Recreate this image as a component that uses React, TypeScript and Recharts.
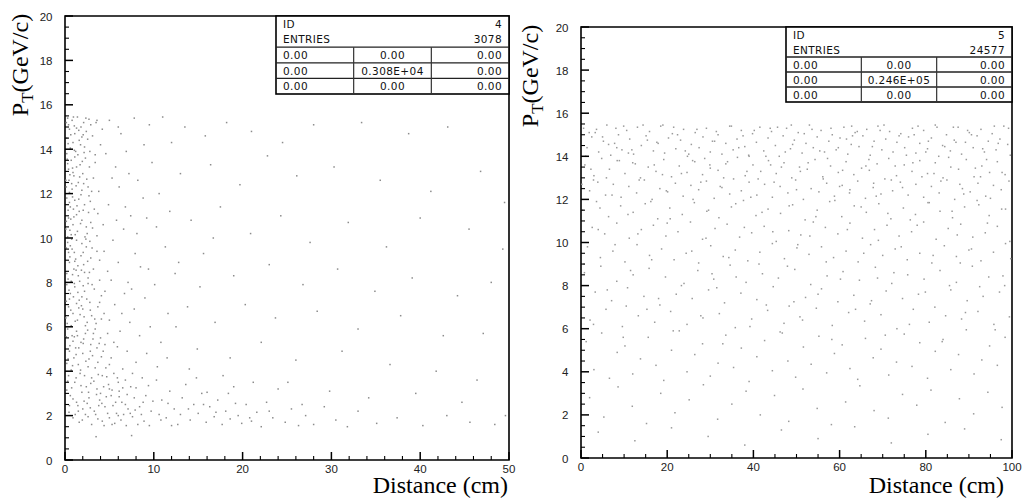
import React from 'react'
import { ScatterChart, Scatter, XAxis, YAxis, ReferenceArea } from 'recharts'

// distance (cm), pT (GeV/c) (ID 4)
const leftCore: [number, number][] = [
  [0.3,15.4],[0.8,15.3],[1.4,15.45],[2.1,15.2],[2.7,15.35],[0.5,14.9],[1.1,14.7],[1.8,15.0],[2.4,14.8],[0.2,14.5],
  [0.9,14.3],[1.6,14.4],[2.2,14.1],[3.1,14.6],[0.6,14.05],[1.3,14.95],[2.9,15.1],[3.6,15.3],[0.4,15.1],[1.9,14.55],
  [0.2,13.8],[0.7,13.5],[1.2,13.9],[1.7,13.3],[2.3,13.6],[0.4,13.1],[1.0,12.8],[1.5,12.5],[2.0,12.9],[2.6,12.3],
  [0.1,12.6],[0.8,12.2],[1.3,13.2],[2.8,13.9],[0.5,12.05],[1.9,12.15],[3.2,12.7],[0.3,13.35],[1.1,13.65],[2.1,12.45],
  [3.4,13.4],[0.9,12.95],[0.2,11.8],[0.6,11.4],[1.1,11.7],[1.6,11.2],[2.2,11.5],[2.7,11.9],[0.4,10.9],[0.9,10.6],
  [1.4,10.3],[1.9,10.8],[2.5,10.2],[0.1,10.4],[0.7,10.15],[1.3,11.05],[2.9,10.7],[3.3,11.3],[0.5,11.6],[1.8,11.95],
  [2.4,10.5],[1.0,10.95],[3.6,10.1],[0.3,10.05],[0.3,9.8],[0.8,9.5],[1.3,9.9],[1.8,9.2],[2.4,9.6],[2.9,9.1],
  [0.5,8.9],[1.0,8.6],[1.5,8.3],[2.1,8.8],[2.6,8.2],[0.2,8.4],[0.7,8.05],[1.2,9.05],[3.2,8.6],[3.6,9.4],
  [0.4,9.35],[1.9,9.75],[2.2,8.45],[1.1,8.95],[3.9,8.1],[0.6,9.65],[2.8,9.85],[0.2,7.9],[0.6,7.5],[1.1,7.8],
  [1.6,7.2],[2.2,7.6],[2.8,7.1],[3.3,7.7],[0.4,6.9],[0.9,6.6],[1.4,6.3],[2.0,6.8],[2.5,6.2],[3.0,6.5],
  [3.7,6.9],[0.1,6.4],[0.7,6.05],[1.3,7.05],[1.9,7.35],[2.6,7.95],[3.5,6.15],[4.1,7.4],[0.5,7.25],[1.7,6.55],
  [2.3,6.05],[4.4,6.6],[0.3,5.9],[0.8,5.6],[1.3,5.8],[1.8,5.3],[2.3,5.7],[2.9,5.2],[3.4,5.9],[4.0,5.5],
  [0.5,4.9],[1.0,4.6],[1.5,4.3],[2.0,4.8],[2.6,4.2],[3.1,4.7],[3.7,4.4],[4.3,4.9],[0.2,4.35],[0.7,4.05],
  [1.2,5.05],[2.1,5.45],[3.6,5.05],[4.8,5.7],[5.2,4.6],[0.9,5.35],[2.7,4.55],[4.6,4.15],[5.5,5.3],
]

const leftCore2: [number, number][] = [
  [0.15,15.2],[0.65,14.65],[1.05,15.05],[1.55,14.85],[2.35,15.4],[0.35,14.25],[1.75,14.2],[2.55,14.45],[0.95,15.45],[2.05,14.65],
  [0.25,13.55],[0.55,12.85],[0.85,13.15],[1.45,13.75],[1.95,13.45],[2.45,12.65],[0.15,12.3],[1.25,12.35],[1.65,12.75],[2.75,13.2],
  [0.45,12.6],[2.15,13.85],[3.0,12.1],[1.05,13.95],[0.75,12.45],
  [0.35,11.25],[0.85,11.85],[1.35,11.45],[1.75,10.65],[2.05,11.25],[0.15,10.75],[0.55,10.35],[1.15,10.15],[2.65,11.15],[1.55,11.75],
  [2.25,10.05],[3.1,10.45],[0.95,11.3],[2.85,11.65],[0.65,10.85],
  [0.15,9.55],[0.55,9.15],[1.05,9.35],[1.45,8.75],[2.05,9.35],[2.55,8.95],[0.35,8.15],[0.85,8.35],[1.65,8.05],[2.35,9.95],
  [3.05,9.55],[1.25,8.55],[2.75,8.45],[0.75,9.95],[1.85,8.55],
  [0.15,7.15],[0.45,7.65],[0.95,7.35],[1.45,7.55],[1.85,6.95],[2.45,7.25],[3.05,7.9],[0.65,6.75],[1.15,6.25],[1.55,6.85],
  [2.15,6.45],[2.85,6.75],[3.35,6.35],[0.25,6.15],[3.9,7.1],[1.05,7.95],[2.05,7.85],
  [0.15,5.55],[0.55,5.15],[1.05,5.55],[1.55,5.05],[2.05,5.25],[2.55,5.85],[3.15,5.45],[3.85,5.25],[0.35,4.55],[0.85,4.25],
  [1.25,4.75],[1.75,4.05],[2.35,4.45],[2.85,4.9],[3.4,4.15],[4.1,4.65],[4.5,5.2],[5.0,4.3],[1.4,5.6],[3.2,5.7],
  [0.3,3.55],[0.75,3.25],[1.25,3.7],[1.8,3.35],[2.2,3.8],[2.65,3.05],[3.25,3.55],[3.75,3.85],[4.35,3.3],[4.7,3.75],
  [5.3,3.15],[5.9,3.7],[6.5,3.25],[0.9,2.75],[1.45,2.45],[2.15,2.65],[2.85,2.35],[3.55,2.95],[4.15,2.55],[4.65,2.85],
  [5.4,2.45],[6.1,2.85],[6.8,2.5],[7.35,2.1],[0.45,2.15],[1.15,2.05],[1.95,1.8],[2.6,1.95],[3.45,2.05],[4.2,1.75],
  [5.3,1.6],[6.0,2.0],[7.9,2.25],[8.8,2.6],[9.9,2.65],[10.8,1.8],[11.6,2.55],[13.0,2.05],[13.9,2.3],[15.6,2.5],
  [17.0,2.15],[19.2,2.55],[20.8,1.9],[23.0,2.2],[26.7,2.5],
]

const leftLow: [number, number][] = [
  [0.4,3.8],[1.1,3.5],[1.7,3.9],[2.4,3.3],[3.0,3.7],[3.6,3.2],[4.2,3.8],[4.9,3.4],[5.5,3.9],[6.1,3.1],
  [6.8,3.6],[7.4,3.3],[0.6,2.9],[1.3,2.6],[2.0,2.3],[2.7,2.8],[3.3,2.2],[3.9,2.7],[4.5,2.4],[5.2,2.9],
  [5.8,2.1],[6.4,2.6],[7.1,2.3],[7.8,2.8],[8.4,2.4],[9.1,2.9],[9.7,2.2],[0.9,1.9],[1.6,1.7],[2.3,2.05],
  [3.0,1.6],[3.7,1.85],[4.4,1.55],[5.0,1.9],[5.6,1.65],[6.3,1.8],[6.9,1.55],[7.6,1.95],[8.2,1.6],[8.9,1.75],
  [9.5,1.55],[0.2,3.15],[1.9,3.05],[2.9,3.45],[4.0,3.0],[5.0,3.2],[6.0,3.5],[7.0,2.95],[8.0,3.25],[8.7,3.7],
  [9.4,3.35],[3.5,1.05],[7.5,1.1],[0.5,2.45],[1.5,2.2],[2.5,2.55],[3.8,2.45],[4.8,2.1],[5.7,2.6],[6.6,2.05],
  [8.6,2.05],[10.3,3.6],[10.9,2.7],[11.4,1.9],[11.8,3.1],[12.3,2.3],[12.7,1.6],[13.2,2.8],[13.6,3.4],[14.1,1.8],
  [14.5,2.5],[15.0,2.1],[15.4,3.0],[15.9,1.7],[16.3,2.4],[16.8,1.95],[17.2,2.7],[17.7,1.6],[18.1,2.2],[18.6,1.85],
  [19.0,3.3],[19.5,2.0],[19.9,1.65],[20.4,2.5],[21.0,1.75],[21.6,2.15],[22.1,1.5],[22.7,2.6],[23.4,1.9],[24.0,3.2],
  [24.8,1.7],[25.5,2.3],[26.3,1.55],[27.1,2.0],[28.0,1.6],[29.2,2.4],[30.5,1.8],[31.8,1.5],[33.0,2.2],[35.1,1.65],
  [37.4,1.9],[40.3,1.55],[43.0,2.0],[45.6,1.7],[48.4,1.6],[49.6,2.0],[10.6,2.05],[12.0,1.55],[14.8,3.7],[16.0,3.05],
  [18.4,3.0],[21.2,3.5],
]

const leftSparse: [number, number][] = [
  [3.5,15.2],[4.2,14.9],[5.0,15.3],[6.3,14.7],[7.8,15.4],[9.5,15.1],[11.0,15.45],[4.6,13.8],[5.7,13.2],[6.9,13.9],
  [8.2,12.6],[9.8,13.4],[3.8,12.1],[4.9,11.5],[6.1,12.3],[7.4,11.0],[8.8,11.8],[10.6,12.0],[4.3,10.6],[5.4,9.9],
  [6.6,10.4],[7.9,9.3],[9.2,10.9],[11.3,9.6],[3.9,9.0],[4.8,8.5],[6.0,8.9],[7.1,8.0],[8.5,8.7],[10.1,7.9],
  [4.5,7.6],[5.6,7.0],[6.7,7.5],[7.8,6.8],[9.0,7.3],[11.6,6.6],[5.0,6.3],[6.2,5.8],[7.3,6.2],[8.4,5.6],
  [9.6,6.0],[10.8,5.3],[5.9,5.1],[7.0,4.9],[8.0,4.4],[9.2,4.8],[10.4,4.2],[11.5,4.6],[6.5,4.1],[7.6,3.9],
  [4.0,14.2],[5.3,12.7],[6.8,11.4],[8.1,10.2],[9.4,8.6],[3.7,11.1],[4.4,9.4],[5.2,8.1],[6.4,6.6],[7.5,7.7],
  [12.0,14.3],[11.8,11.2],[3.4,13.75],[4.1,6.35],[5.8,10.8],[8.9,14.2],[10.3,10.5],[12.4,8.4],[6.0,15.0],[7.2,12.9],
  [13.5,15.0],[15.8,14.6],[18.2,15.2],[21.0,14.8],[24.5,14.3],[28.0,15.1],[33.4,15.2],[38.7,14.7],[43.1,15.0],[13.0,12.9],
  [16.4,13.3],[19.7,12.4],[22.8,13.7],[26.1,12.8],[30.3,13.2],[35.5,12.6],[41.2,12.1],[46.8,13.0],[49.5,11.6],[14.2,10.8],
  [17.5,11.4],[20.9,10.2],[24.3,11.0],[27.6,9.8],[31.9,10.7],[36.2,9.6],[40.0,10.9],[45.5,10.4],[49.3,9.5],[12.8,8.9],
  [15.6,9.3],[19.0,8.3],[23.0,8.8],[26.8,7.9],[30.7,8.6],[34.9,7.6],[39.1,8.2],[44.2,7.4],[48.0,8.0],[13.8,6.9],
  [16.9,6.2],[20.3,7.0],[23.7,6.4],[28.4,6.7],[33.0,5.9],[37.8,6.5],[42.6,5.6],[47.1,5.7],[14.9,5.0],[18.6,4.6],
  [22.1,5.3],[26.0,4.5],[31.2,4.9],[36.6,4.3],[41.8,4.0],[46.4,3.6],[17.8,3.8],[25.1,3.5],[29.8,3.1],[34.2,2.8],
  [39.5,3.0],[44.7,2.6],[12.5,6.0],[14.0,4.1],[15.2,7.8],[16.7,10.0],
]

// distance (cm), pT (GeV/c) (ID 5)
const rightTop: [number, number][] = [
  [0.6,15.3],[1.4,14.4],[2.5,14.9],[3.3,15.1],[4.1,14.2],[5.2,14.7],[6.0,15.45],[6.9,14.05],[7.8,14.6],[8.7,15.0],
  [9.5,14.3],[10.6,15.2],[11.3,14.8],[12.2,14.1],[13.1,15.35],[14.0,14.5],[15.1,14.95],[15.9,15.15],[16.8,14.25],[17.6,14.65],
  [18.5,15.4],[19.4,14.15],[20.3,14.85],[21.2,15.05],[22.0,14.35],[23.1,14.75],[23.8,15.25],[24.7,14.0],[25.6,14.55],[26.5,15.1],
  [27.4,14.4],[28.3,14.9],[29.1,15.3],[30.0,14.2],[31.0,14.7],[31.8,15.0],[32.7,14.1],[33.6,14.6],[34.5,15.4],[35.3,14.3],
  [36.2,14.8],[37.2,15.2],[38.0,14.45],[38.9,14.05],[39.8,15.05],[40.7,14.65],[41.5,15.35],[42.4,14.25],[43.4,14.85],[44.2,15.15],
  [45.1,14.5],[46.0,14.0],[46.9,14.95],[47.7,15.3],[48.6,14.35],[49.5,14.75],[50.4,15.1],[51.3,14.15],[52.2,14.6],[53.0,15.45],
  [53.9,14.4],[54.8,14.9],[55.7,15.2],[56.5,14.2],[57.5,14.7],[58.3,15.0],[59.2,14.3],[60.1,14.85],[61.0,15.35],[61.9,14.1],
  [62.7,14.55],[63.6,15.1],[64.5,14.45],[65.4,14.95],[66.3,15.25],[67.1,14.05],[68.0,14.7],[68.9,15.4],[69.8,14.3],[70.7,14.8],
  [71.6,15.15],[72.4,14.2],[73.3,14.65],[74.2,15.05],[75.1,14.4],[76.0,14.9],[76.9,15.3],[77.7,14.15],[78.6,14.6],[79.5,15.2],
  [80.4,14.35],[81.3,14.85],[82.2,15.45],[83.0,14.0],[83.9,14.5],[84.8,15.0],[85.7,14.25],[86.6,14.75],[87.5,15.35],[88.3,14.1],
  [89.2,14.65],[90.1,15.1],[91.0,14.4],[91.9,14.95],[92.8,15.25],[93.6,14.2],[94.5,14.7],[95.4,15.05],[96.3,14.3],[97.2,14.8],
  [98.1,15.4],[99.0,14.55],
  [0.9,13.6],[2.0,12.4],[3.0,13.1],[3.9,12.8],[4.8,13.9],[5.7,12.2],[6.6,13.4],[7.5,12.7],[8.4,13.8],[9.3,12.1],
  [10.2,13.2],[11.1,12.6],[12.0,13.7],[12.9,12.3],[13.8,13.0],[14.7,12.9],[15.6,13.5],[16.5,12.0],[17.4,13.3],[18.3,12.5],
  [19.2,13.85],[20.1,12.35],[21.0,13.05],[21.9,12.75],[22.8,13.55],[23.7,12.15],[24.6,13.25],[25.5,12.65],[26.4,13.75],[27.3,12.45],
  [28.2,13.15],[29.1,12.85],[30.0,13.45],[30.9,12.05],[31.8,13.35],[32.7,12.55],[33.6,13.65],[34.5,12.25],[35.4,12.95],[36.3,13.95],
  [37.2,12.4],[38.1,13.1],[39.0,12.8],[39.9,13.6],[40.8,12.2],[41.7,13.3],[42.6,12.7],[43.5,13.8],[44.4,12.1],[45.3,13.2],
  [46.2,12.6],[47.1,13.7],[48.0,12.3],[48.9,13.0],[49.8,12.9],[50.7,13.5],[51.6,12.0],[52.5,13.4],[53.4,12.5],[54.3,13.85],
  [55.2,12.35],[56.1,13.05],[57.0,12.75],[57.9,13.55],[58.8,12.15],[59.7,13.25],[60.6,12.65],[61.5,13.75],[62.4,12.45],[63.3,13.15],
  [64.2,12.85],[65.1,13.45],[66.0,12.05],[66.9,13.35],[67.8,12.55],[68.7,13.65],[69.6,12.25],[70.5,12.95],[71.4,13.9],[72.3,12.4],
  [73.2,13.1],[74.1,12.8],[75.0,13.6],[75.9,12.2],[76.8,13.3],[77.7,12.7],[78.6,13.8],[79.5,12.1],[80.4,13.2],[81.3,12.6],
  [82.2,13.7],[83.1,12.3],[84.0,13.0],[84.9,12.9],[85.8,13.5],[86.7,12.0],[87.6,13.4],[88.5,12.5],[89.4,13.85],[90.3,12.35],
  [91.2,13.05],[92.1,12.75],[93.0,13.55],[93.9,12.15],[94.8,13.25],[95.7,12.65],[96.6,13.75],[97.5,12.45],[98.4,13.15],[99.3,12.85],
]

const rightTop2: [number, number][] = [
  [0.2,12.7],[1.9,15.1],[2.3,13.4],[4.4,11.6],[5.0,14.9],[7.2,12.2],[8.1,15.3],[8.9,13.8],[10.9,11.3],[11.8,14.3],
  [13.5,12.9],[14.4,15.45],[16.2,11.9],[17.0,13.6],[17.9,14.6],[19.8,12.4],[20.7,11.1],[22.4,15.0],[23.3,13.2],[25.0,14.1],
  [26.0,12.0],[26.9,15.25],[28.7,13.9],[29.6,11.5],[30.5,14.7],[32.3,12.6],[33.1,13.0],[34.9,15.4],[35.9,11.8],[36.6,14.4],
  [38.5,13.3],[39.4,12.1],[40.2,15.2],[42.0,11.4],[42.9,14.0],[44.8,12.8],[45.6,15.35],[46.5,13.5],[48.3,11.7],[49.1,14.55],
  [50.0,12.45],[51.8,15.05],[52.7,13.7],[54.5,11.2],[55.4,14.25],[56.2,12.95],[58.0,15.3],[58.9,11.95],[60.7,13.35],[61.6,14.8],
  [62.3,12.3],[64.1,15.15],[65.0,11.65],[66.8,13.85],[67.6,14.45],[68.5,12.15],[70.3,15.45],[71.2,11.35],[72.9,13.55],[73.8,14.95],
  [74.6,12.55],[76.4,11.05],[77.3,15.0],[79.1,13.05],[80.0,14.2],[80.8,11.85],[82.6,15.35],[83.5,12.85],[85.3,13.95],[86.1,11.45],
  [87.0,14.65],[88.8,12.25],[89.7,15.2],[91.5,13.45],[92.3,11.75],[93.2,14.35],[95.0,12.05],[95.9,15.4],[97.7,13.25],[98.5,11.55],
  [99.6,14.05],
  [1.1,14.0],[3.6,15.25],[5.9,13.0],[6.4,14.55],[9.9,15.4],[12.6,13.65],[15.4,14.75],[18.9,13.15],[21.5,15.35],[24.2,14.25],
  [27.8,12.8],[31.4,15.15],[34.0,13.75],[37.6,14.95],[41.1,12.95],[43.9,15.3],[47.4,14.2],[50.9,13.3],[53.6,15.25],[57.2,13.9],
  [60.0,12.6],[63.0,14.95],[66.1,13.55],[69.4,15.2],[72.0,12.9],[75.5,14.05],[78.2,15.4],[81.9,13.2],[84.4,14.45],[87.9,12.7],
  [90.6,15.0],[94.1,13.85],[96.8,14.6],[99.2,15.3],[2.9,12.9],[11.0,14.15],[19.0,15.45],[29.9,13.6],[39.0,14.0],[48.8,15.45],
  [59.7,14.4],[67.9,12.75],[77.0,13.7],[86.4,15.35],[92.7,13.05],[8.3,14.4],[25.9,13.8],[44.0,13.6],[62.8,15.4],[80.6,14.7],
]

const rightMid: [number, number][] = [
  [0.4,11.5],[1.5,9.8],[2.6,10.7],[3.6,11.9],[4.5,9.3],[5.5,10.4],[6.4,11.2],[7.4,9.6],[8.3,10.9],[9.2,11.7],
  [10.2,9.1],[11.2,10.2],[12.1,11.4],[13.0,9.9],[14.0,10.6],[14.9,11.8],[15.9,9.4],[16.8,10.8],[17.8,11.1],[18.7,9.7],
  [19.7,10.3],[20.6,11.6],[21.6,9.2],[22.5,10.5],[23.5,11.3],[24.4,9.5],[25.4,10.95],[26.3,11.85],[27.3,9.05],[28.2,10.15],
  [29.2,11.45],[30.1,9.85],[31.1,10.65],[32.0,11.15],[33.0,9.35],[33.9,10.85],[34.9,11.65],[35.8,9.65],[36.8,10.25],[37.7,11.95],
  [38.7,9.15],[39.6,10.45],[40.6,11.25],[41.5,9.55],[42.5,10.75],[43.4,11.55],[44.4,9.95],[45.3,10.05],[46.3,11.35],[47.2,9.25],
  [48.2,10.55],[49.1,11.75],[50.1,9.75],[51.0,10.35],[52.0,11.05],[52.9,9.45],[53.9,10.95],[54.8,11.5],[55.8,9.8],[56.7,10.7],
  [57.7,11.9],[58.6,9.3],[59.6,10.4],[60.5,11.2],[61.5,9.6],[62.4,10.9],[63.4,11.7],[64.3,9.1],[65.3,10.2],[66.2,11.4],
  [67.2,9.9],[68.1,10.6],[69.1,11.8],[70.0,9.4],[71.0,10.8],[71.9,11.1],[72.9,9.7],[73.8,10.3],[74.8,11.6],[75.7,9.2],
  [76.7,10.5],[77.6,11.3],[78.6,9.5],[79.5,10.95],[80.5,11.85],[81.4,9.05],[82.4,10.15],[83.3,11.45],[84.3,9.85],[85.2,10.65],
  [86.2,11.15],[87.1,9.35],[88.1,10.85],[89.0,11.65],[90.0,9.65],[90.9,10.25],[91.9,11.95],[92.8,9.15],[93.8,10.45],[94.7,11.25],
  [95.7,9.55],[96.6,10.75],[97.6,11.55],[98.5,9.95],[99.5,10.05],
  [0.8,8.6],[2.1,6.4],[3.3,7.7],[4.6,8.9],[5.8,6.9],[7.1,7.3],[8.3,8.2],[9.6,6.1],[10.8,7.9],[12.1,8.5],
  [13.3,6.6],[14.6,7.5],[15.8,8.8],[17.1,6.3],[18.3,7.1],[19.6,8.4],[20.8,6.8],[22.1,7.6],[23.3,8.0],[24.6,6.2],
  [25.8,7.4],[27.1,8.7],[28.3,6.5],[29.6,7.8],[30.8,8.3],[32.1,6.7],[33.3,7.2],[34.6,8.95],[35.8,6.05],[37.1,7.65],
  [38.3,8.15],[39.6,6.45],[40.8,7.35],[42.1,8.55],[43.3,6.85],[44.6,7.95],[45.8,8.35],[47.1,6.25],[48.3,7.05],[49.6,8.75],
  [50.8,6.55],[52.1,7.45],[53.3,8.05],[54.6,6.95],[55.8,7.85],[57.1,8.45],[58.3,6.15],[59.6,7.25],[60.8,8.65],[62.1,6.75],
  [63.3,7.55],[64.6,8.25],[65.8,6.35],[67.1,7.15],[68.3,8.85],[69.6,6.65],[70.8,7.75],[72.1,8.1],[73.3,6.0],[74.6,7.4],
  [75.8,8.5],[77.1,6.9],[78.3,7.6],[79.6,8.3],[80.8,6.3],[82.1,7.0],[83.3,8.7],[84.6,6.6],[85.8,7.8],[87.1,8.15],
  [88.3,6.45],[89.6,7.3],[90.8,8.9],[92.1,6.8],[93.3,7.5],[94.6,8.4],[95.8,6.2],[97.1,7.7],[98.3,8.0],[99.4,6.55],
]

const rightMid2: [number, number][] = [
  [0.7,9.0],[2.9,6.2],[4.0,10.6],[6.1,7.8],[7.9,9.9],[9.8,5.6],[11.5,8.7],[13.2,10.4],[15.3,6.9],[16.4,9.2],
  [18.0,7.4],[20.0,10.9],[21.4,5.9],[23.9,8.1],[25.7,9.6],[27.8,6.6],[29.0,10.2],[31.5,7.9],[32.9,5.3],[34.3,9.3],
  [36.0,8.4],[37.9,10.7],[39.2,6.1],[41.3,9.0],[43.0,7.1],[44.5,10.5],[46.7,5.8],[47.9,8.9],[50.3,9.9],[51.4,6.4],
  [53.1,10.3],[55.0,7.6],[56.9,9.1],[58.2,5.5],[60.2,8.3],[61.8,10.6],[63.7,6.9],[65.6,9.5],[67.4,7.3],[69.0,10.1],
  [70.6,5.7],[72.6,8.6],[74.3,9.8],[76.2,6.2],[78.0,10.8],[79.9,7.7],[81.7,9.4],[83.8,5.4],[85.5,8.0],[87.3,10.35],
  [89.2,6.75],[90.6,9.7],[92.5,7.95],[94.3,10.9],[96.1,5.95],[97.9,8.45],[99.7,9.25],[10.5,7.05],[30.4,8.55],[49.4,7.25],
  [68.8,8.35],[88.0,9.05],
]

const rightLow: [number, number][] = [
  [1.2,5.4],[3.0,4.1],[4.8,5.8],[6.6,3.7],[8.4,4.9],[10.2,5.2],[12.0,3.9],[13.8,4.6],[15.6,5.6],[17.4,4.3],
  [19.2,3.6],[21.0,5.0],[22.8,5.9],[24.6,4.0],[26.4,4.8],[28.2,5.3],[30.0,3.8],[31.8,4.4],[33.6,5.7],[35.4,4.2],
  [37.2,5.1],[39.0,3.55],[40.8,4.7],[42.6,5.45],[44.4,4.05],[46.2,5.85],[48.0,4.5],[49.8,3.75],[51.6,5.15],[53.4,4.35],
  [55.2,5.65],[57.0,3.95],[58.8,4.85],[60.6,5.25],[62.4,4.15],[64.2,3.65],[66.0,5.55],[67.8,4.65],[69.6,5.05],[71.4,3.85],
  [73.2,4.45],[75.0,5.75],[76.8,4.25],[78.6,5.35],[80.4,3.7],[82.2,4.95],[84.0,5.5],[85.8,4.1],[87.6,4.8],[89.4,5.95],
  [91.2,3.9],[93.0,4.55],[94.8,5.2],[96.6,4.3],[98.4,5.6],
  [2.0,2.8],[5.3,1.9],[8.6,3.3],[11.9,2.4],[15.2,1.6],[18.5,3.0],[21.8,2.1],[25.1,2.7],[28.4,3.4],[31.7,1.8],
  [35.0,2.5],[38.3,3.1],[41.6,2.0],[44.9,2.9],[48.2,1.7],[51.5,3.2],[54.8,2.3],[58.1,1.55],[61.4,2.6],[64.7,3.35],
  [68.0,2.2],[71.3,1.85],[74.6,2.95],[77.9,2.45],[81.2,3.15],[84.5,1.65],[87.8,2.75],[91.1,2.05],[94.4,3.05],[97.7,2.35],
  [4.0,1.2],[12.5,0.8],[21.0,1.4],[29.5,1.0],[38.0,0.6],[46.5,1.3],[55.0,0.9],[63.5,1.45],[72.0,0.7],[80.5,1.1],
  [89.0,1.35],[97.5,0.85],
]

const yMajors = [0, 2, 4, 6, 8, 10, 12, 14, 16, 18, 20]
const leftXMajors = [0, 10, 20, 30, 40, 50]
const rightXMajors = [0, 20, 40, 60, 80, 100]

const leftStats = { id: '4', entries: '3078', cells: [['0.00', '0.00', '0.00'], ['0.00', '0.308E+04', '0.00'], ['0.00', '0.00', '0.00']] }
const rightStats = { id: '5', entries: '24577', cells: [['0.00', '0.00', '0.00'], ['0.00', '0.246E+05', '0.00'], ['0.00', '0.00', '0.00']] }

const tickFont = '"Liberation Sans", Arial, sans-serif'
const serif = '"Liberation Serif", "Times New Roman", serif'
const boxFont = '"DejaVu Sans", sans-serif'

function minorTicks(max: number, step: number) {
  const out: number[] = []
  for (let v = 0; v <= max + 1e-9; v += step) out.push(Math.round(v * 100) / 100)
  return out
}

function YTick(props: any) {
  const { x, y, payload, majors } = props
  const major = majors.includes(payload.value)
  return (
    <g>
      <line x1={x} x2={x + (major ? 8 : 4)} y1={y} y2={y} stroke="#000" strokeWidth={major ? 1.5 : 1.1} />
      {major && (
        <text x={x - 12.5} y={y + 4.5} textAnchor="end" fontSize={11.5} fontFamily={tickFont} fill="#222">
          {payload.value}
        </text>
      )}
    </g>
  )
}

function XTick(props: any) {
  const { x, y, payload, majors } = props
  const major = majors.includes(payload.value)
  return (
    <g>
      <line x1={x} x2={x} y1={y} y2={y - (major ? 8 : 4)} stroke="#000" strokeWidth={major ? 1.5 : 1.1} />
      {major && (
        <text x={x} y={y + 13} textAnchor="middle" fontSize={11.5} fontFamily={tickFont} fill="#222">
          {payload.value}
        </text>
      )}
    </g>
  )
}

function Dot(props: any) {
  const { cx, cy, fill } = props
  if (cx == null || cy == null) return <g />
  return <rect x={cx - 0.75} y={cy - 0.75} width={1.5} height={1.5} fill={fill} />
}

function StatsBox({ x, y, w, h, stats }: { x: number; y: number; w: number; h: number; stats: typeof leftStats }) {
  const rh = h / 5
  const cw = w / 3
  const txt = { fontSize: 10.5, fontFamily: boxFont, fill: '#111', letterSpacing: 0.4 }
  return (
    <svg style={{ position: 'absolute', left: x - 2, top: y - 2 }} width={w + 4} height={h + 4}>
      <g transform="translate(2,2)">
        <rect x={0} y={0} width={w} height={h} fill="#fff" stroke="#000" strokeWidth={1.6} />
        {[2, 3, 4].map((r) => (
          <line key={r} x1={0} x2={w} y1={r * rh} y2={r * rh} stroke="#222" strokeWidth={1.3} />
        ))}
        {[1, 2].map((c) => (
          <line key={c} x1={c * cw} x2={c * cw} y1={2 * rh} y2={h} stroke="#333" strokeWidth={1.2} />
        ))}
        <text x={7} y={rh / 2 + 4} {...txt}>ID</text>
        <text x={w - 7} y={rh / 2 + 4} textAnchor="end" {...txt}>{stats.id}</text>
        <text x={7} y={rh * 1.5 + 4} {...txt}>ENTRIES</text>
        <text x={w - 7} y={rh * 1.5 + 4} textAnchor="end" {...txt}>{stats.entries}</text>
        {stats.cells.map((row, r) => (
          <g key={r}>
            <text x={7} y={rh * (2.5 + r) + 4} {...txt}>{row[0]}</text>
            <text x={cw * 1.5} y={rh * (2.5 + r) + 4} textAnchor="middle" {...txt}>{row[1]}</text>
            <text x={w - 7} y={rh * (2.5 + r) + 4} textAnchor="end" {...txt}>{row[2]}</text>
          </g>
        ))}
      </g>
    </svg>
  )
}

interface PanelProps {
  points: [number, number][][]
  xMax: number
  xMajors: number[]
  xStep: number
  width: number
  top: number
  bottom: number
  right: number
  axisW: number
  labelRight: number
  dotFill: string
}

function Panel({ points, xMax, xMajors, xStep, width, top, bottom, right, axisW, labelRight, dotFill }: PanelProps) {
  const data = points.flat().map(([d, pt]) => ({ d, pt }))
  return (
    <ScatterChart width={width} height={498} margin={{ top, right, bottom: 498 - bottom - 30, left: 0 }}>
      <XAxis
        type="number"
        dataKey="d"
        domain={[0, xMax]}
        ticks={minorTicks(xMax, xStep)}
        interval={0}
        height={30}
        axisLine={false}
        tickSize={0}
        tickMargin={0}
        tick={<XTick majors={xMajors} />}
      />
      <YAxis
        type="number"
        dataKey="pt"
        domain={[0, 20]}
        ticks={minorTicks(20, 0.5)}
        interval={0}
        width={axisW}
        axisLine={false}
        tickSize={0}
        tickMargin={0}
        tick={<YTick majors={yMajors} />}
      />
      <ReferenceArea x1={0} x2={xMax} y1={0} y2={20} fill="#fff" fillOpacity={0} stroke="#000" strokeWidth={1.6} ifOverflow="visible" />
      <Scatter data={data} fill={dotFill} shape={<Dot />} isAnimationActive={false} />
      <text x={labelRight} y={492.5} textAnchor="end" fontSize={24} fontFamily={serif} fill="#000">
        Distance (cm)
      </text>
      <text transform={`translate(28,${top + 49}) rotate(-90)`} textAnchor="middle" fontSize={24} fontFamily={serif} fill="#000">
        P<tspan fontSize={17} dy={5}>T</tspan>
        <tspan dy={-5}>(GeV/c)</tspan>
      </text>
    </ScatterChart>
  )
}

export default function App() {
  return (
    <div style={{ position: 'relative', width: 1023, height: 498, background: '#fff', overflow: 'hidden' }}>
      <style>{'body{margin:0}'}</style>
      <div style={{ position: 'absolute', left: 0, top: 0 }}>
        <Panel
          points={[leftCore, leftCore2, leftLow, leftSparse]}
          xMax={50}
          xMajors={leftXMajors}
          xStep={2}
          width={520}
          top={16}
          bottom={460}
          right={11}
          axisW={65}
          labelRight={508}
          dotFill="#8c8c8c"
        />
      </div>
      <div style={{ position: 'absolute', left: 510, top: 0 }}>
        <Panel
          points={[rightTop, rightTop2, rightMid, rightMid2, rightLow]}
          xMax={100}
          xMajors={rightXMajors}
          xStep={5}
          width={513}
          top={27}
          bottom={458}
          right={11}
          axisW={71}
          labelRight={494}
          dotFill="#9a9a9a"
        />
      </div>
      <StatsBox x={276} y={16} w={233} h={78} stats={leftStats} />
      <StatsBox x={786} y={27} w={226} h={75} stats={rightStats} />
    </div>
  )
}
